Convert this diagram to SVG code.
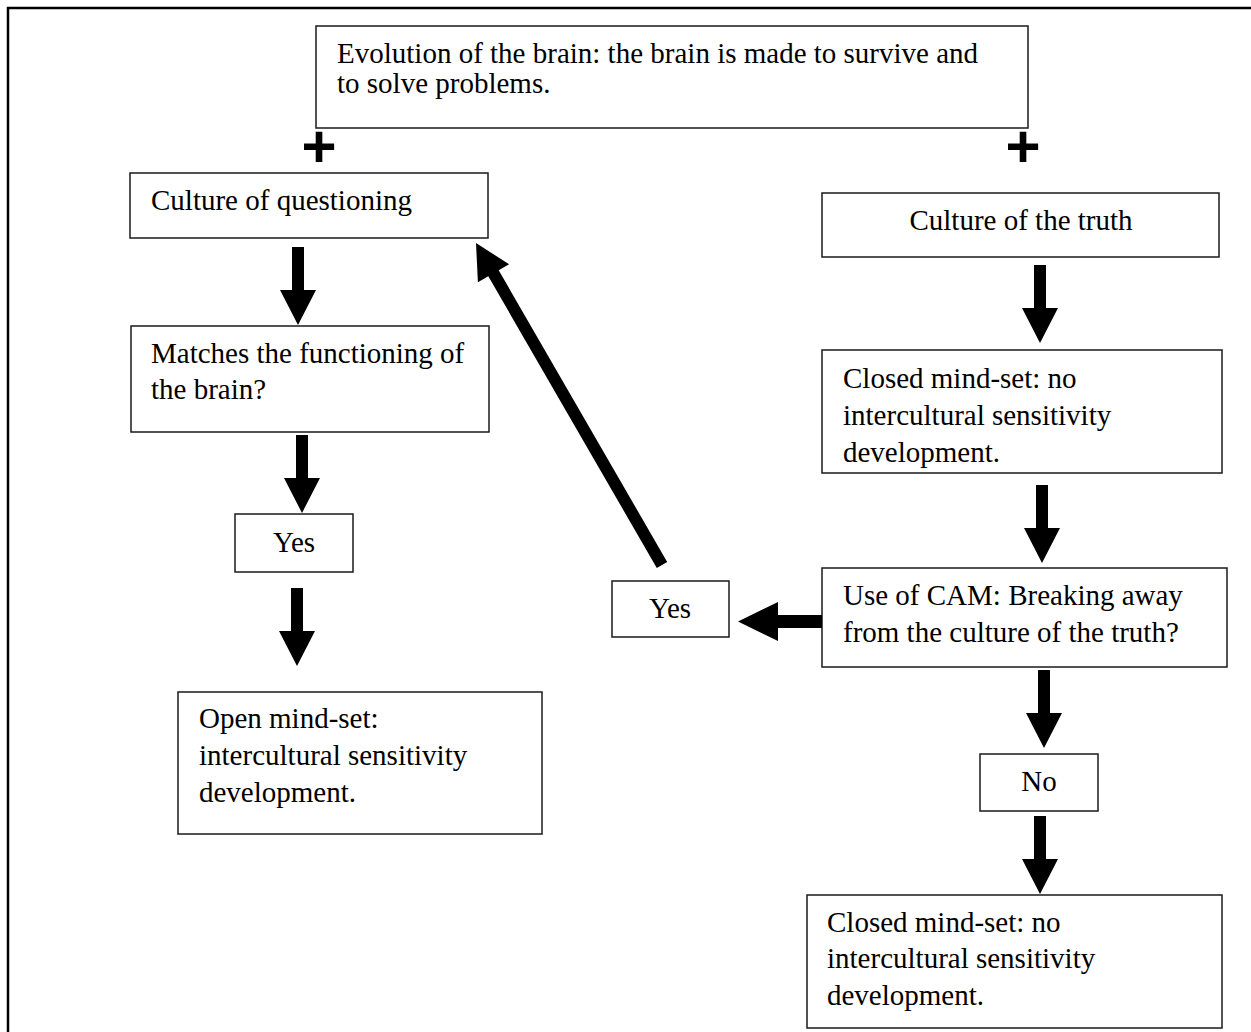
<svg xmlns="http://www.w3.org/2000/svg" width="1251" height="1032" viewBox="0 0 1251 1032">
<style>
.box{fill:#fff;stroke:#1a1a1a;stroke-width:1.5}
.t{font-family:"Liberation Serif","Times New Roman",serif;font-size:29px;fill:#000}
.c{text-anchor:middle}
.plus{font-family:"Liberation Sans",Arial,sans-serif;font-weight:bold;font-size:60px;fill:#000;text-anchor:middle}
.arr{fill:#000}
</style>
<defs>
<path id="down" d="M-6,0 H6 V43 H18 L0,78 L-18,43 H-6 Z"/>
</defs>
<rect width="1251" height="1032" fill="#fff"/>
<path d="M8,1032 V8 H1251" fill="none" stroke="#000" stroke-width="2.5"/>

<g id="node-top">
<rect class="box" x="316" y="26" width="712" height="102"/>
<text class="t" x="337" y="63">Evolution of the brain: the brain is made to survive and</text>
<text class="t" x="337" y="93">to solve problems.</text>
</g>
<g id="plus-left"><text class="plus" x="319" y="167">+</text></g>
<g id="plus-right"><text class="plus" x="1023" y="167">+</text></g>

<g id="node-questioning">
<rect class="box" x="130" y="173" width="358" height="65"/>
<text class="t" x="151" y="210">Culture of questioning</text>
</g>
<g id="node-truth">
<rect class="box" x="822" y="193" width="397" height="64"/>
<text class="t c" x="1021" y="230">Culture of the truth</text>
</g>
<g id="node-matches">
<rect class="box" x="131" y="326" width="358" height="106"/>
<text class="t" x="151" y="363">Matches the functioning of</text>
<text class="t" x="151" y="399">the brain?</text>
</g>
<g id="node-yes-left">
<rect class="box" x="235" y="514" width="118" height="58"/>
<text class="t c" x="294" y="552">Yes</text>
</g>
<g id="node-open">
<rect class="box" x="178" y="692" width="364" height="142"/>
<text class="t" x="199" y="728">Open mind-set:</text>
<text class="t" x="199" y="765">intercultural sensitivity</text>
<text class="t" x="199" y="802">development.</text>
</g>
<g id="node-closed1">
<rect class="box" x="822" y="350" width="400" height="123"/>
<text class="t" x="843" y="388">Closed mind-set: no</text>
<text class="t" x="843" y="425">intercultural sensitivity</text>
<text class="t" x="843" y="462">development.</text>
</g>
<g id="node-cam">
<rect class="box" x="822" y="568" width="405" height="99"/>
<text class="t" x="843" y="605">Use of CAM: Breaking away</text>
<text class="t" x="843" y="642">from the culture of the truth?</text>
</g>
<g id="node-yes-right">
<rect class="box" x="612" y="581" width="117" height="56"/>
<text class="t c" x="670" y="618">Yes</text>
</g>
<g id="node-no">
<rect class="box" x="980" y="754" width="118" height="57"/>
<text class="t c" x="1039" y="791">No</text>
</g>
<g id="node-closed2">
<rect class="box" x="807" y="895" width="415" height="133"/>
<text class="t" x="827" y="932">Closed mind-set: no</text>
<text class="t" x="827" y="968">intercultural sensitivity</text>
<text class="t" x="827" y="1005">development.</text>
</g>

<g id="connectors" class="arr">
<use href="#down" x="298" y="247"/>
<use href="#down" x="302" y="435"/>
<use href="#down" x="297" y="588"/>
<use href="#down" x="1040" y="265"/>
<use href="#down" x="1042" y="485"/>
<use href="#down" x="1044" y="670"/>
<use href="#down" x="1040" y="816"/>
<path d="M822,615 V628 H778 V641 L738,621.5 L778,602 V615 Z"/>
<path d="M476,243 L509.1,264.3 L498.7,270.3 L667.2,562 L656.8,568 L488.3,276.3 L477.9,282.3 Z"/>
</g>
</svg>
